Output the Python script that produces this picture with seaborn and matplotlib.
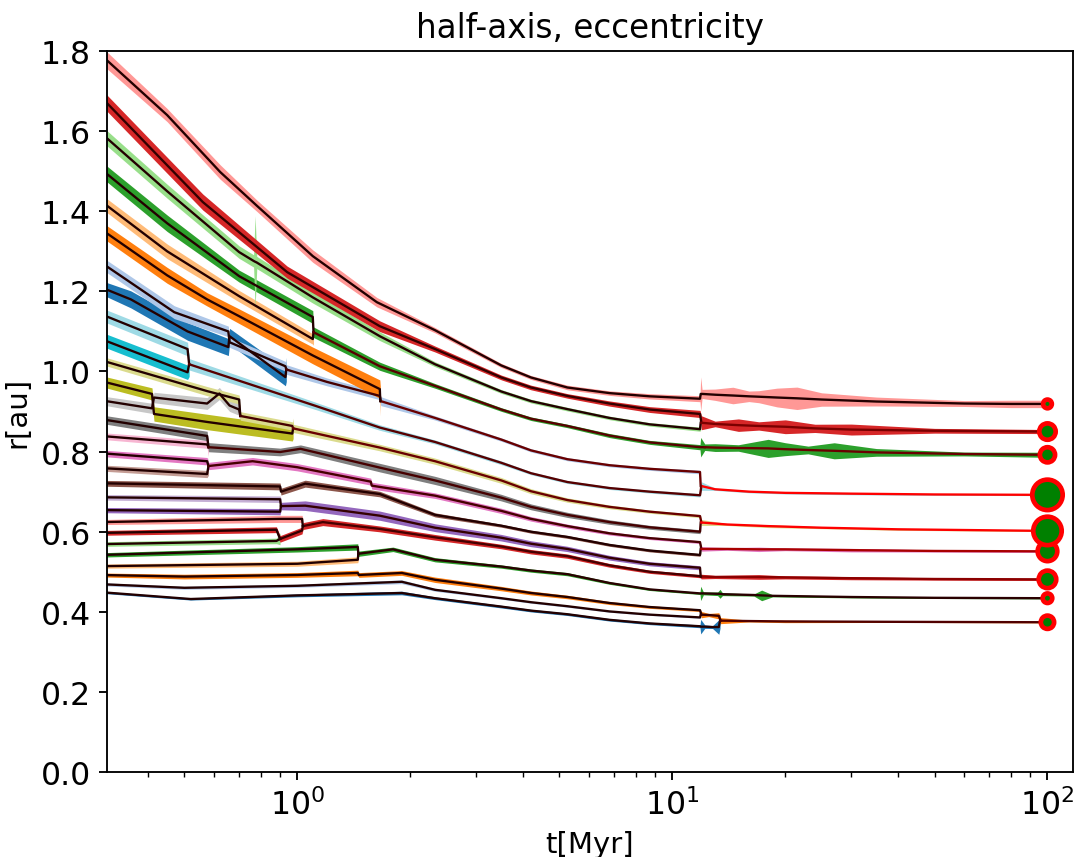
import matplotlib
matplotlib.use("Agg")
import matplotlib.pyplot as plt
from matplotlib.colors import LinearSegmentedColormap, Normalize
import seaborn as sns

# --- body tracks: time [Myr], half-axis [au], eccentricity (band a*(1-e)..a*(1+e)) ---
t0 = [0.30, 0.52, 1.0, 1.9, 2.33, 3.5, 4.2, 5.25, 6.8, 8.7, 11.85, 11.9, 12.2, 12.8, 13.3, 13.4]
a0 = [0.449, 0.432, 0.441, 0.447, 0.434, 0.413, 0.403, 0.394, 0.38, 0.371, 0.364, 0.363, 0.363, 0.362, 0.362, 0.378]
e0 = [0.006, 0.006, 0.008, 0.01, 0.008, 0.008, 0.008, 0.008, 0.008, 0.008, 0.01, 0.05, 0.012, 0.01, 0.05, 0.05]

t1 = [0.30, 0.5, 1.0, 1.9, 2.33, 3.5, 4.2, 5.25, 6.8, 8.7, 11.85, 11.9]
a1 = [0.469, 0.46, 0.465, 0.475, 0.455, 0.434, 0.424, 0.414, 0.401, 0.393, 0.386, 0.393]
e1 = [0.008, 0.008, 0.008, 0.01, 0.008, 0.006, 0.006, 0.006, 0.005, 0.005, 0.005, 0.02]

t2 = [0.30, 0.5, 1.0, 1.45, 1.46, 1.9, 2.33, 3.5, 4.2, 5.25, 6.8, 8.7, 11.85, 11.95, 12.5, 13.3, 13.45, 16, 20, 40, 100]
a2 = [0.492, 0.488, 0.492, 0.497, 0.492, 0.497, 0.48, 0.458, 0.447, 0.437, 0.422, 0.412, 0.404, 0.393, 0.392, 0.39, 0.378, 0.377, 0.376, 0.375, 0.374]
e2 = [0.01, 0.012, 0.012, 0.014, 0.012, 0.012, 0.014, 0.012, 0.011, 0.01, 0.009, 0.008, 0.008, 0.02, 0.01, 0.02, 0.02, 0.006, 0.008, 0.004, 0.004]

t3 = [0.30, 1.0, 1.45, 1.455]
a3 = [0.514, 0.52, 0.53, 0.545]
e3 = [0.01, 0.012, 0.014, 0.03]

t4 = [0.30, 1.0, 1.45, 1.455, 1.8, 2.33, 3.5, 4.2, 5.25, 6.8, 8.7, 11.85, 11.9, 12.1, 13.2, 13.4, 13.6, 16.5, 17.3, 18.5, 30, 50, 100]
a4 = [0.542, 0.556, 0.562, 0.545, 0.556, 0.53, 0.513, 0.503, 0.494, 0.472, 0.456, 0.446, 0.446, 0.446, 0.445, 0.445, 0.444, 0.442, 0.441, 0.44, 0.437, 0.435, 0.434]
e4 = [0.01, 0.012, 0.014, 0.012, 0.01, 0.01, 0.008, 0.008, 0.008, 0.007, 0.006, 0.006, 0.04, 0.008, 0.01, 0.025, 0.008, 0.006, 0.03, 0.006, 0.005, 0.004, 0.004]

t5 = [0.30, 0.88, 0.9]
a5 = [0.569, 0.577, 0.582]
e5 = [0.01, 0.012, 0.025]

t6 = [0.30, 0.88, 0.9, 1.03, 1.035, 1.17, 1.66, 2.33, 3.5, 4.2, 5.25, 6.8, 8.7, 11.85, 11.95, 13, 17, 20, 30, 50, 100]
a6 = [0.597, 0.605, 0.582, 0.603, 0.614, 0.624, 0.607, 0.586, 0.563, 0.55, 0.539, 0.516, 0.50, 0.489, 0.488, 0.487, 0.487, 0.486, 0.484, 0.482, 0.481]
e6 = [0.01, 0.012, 0.014, 0.014, 0.014, 0.014, 0.012, 0.012, 0.01, 0.01, 0.01, 0.009, 0.008, 0.008, 0.012, 0.008, 0.012, 0.008, 0.008, 0.006, 0.006]

t7 = [0.30, 0.9, 1.03, 1.035]
a7 = [0.624, 0.632, 0.632, 0.614]
e7 = [0.01, 0.014, 0.014, 0.03]

t8 = [0.30, 0.9, 0.905, 1.05, 1.66, 2.33, 3.5, 4.2, 5.25, 6.8, 8.7, 11.85, 11.9]
a8 = [0.654, 0.65, 0.664, 0.665, 0.64, 0.61, 0.585, 0.57, 0.557, 0.535, 0.52, 0.51, 0.488]
e8 = [0.01, 0.012, 0.014, 0.018, 0.018, 0.016, 0.014, 0.013, 0.012, 0.011, 0.01, 0.01, 0.02]

t9 = [0.30, 0.9, 0.905]
a9 = [0.686, 0.681, 0.664]
e9 = [0.01, 0.012, 0.03]

t10 = [0.30, 0.9, 0.905, 1.05, 1.66, 2.33, 3.5, 4.2, 5.25, 6.8, 8.7, 11.85, 11.9]
a10 = [0.721, 0.713, 0.70, 0.72, 0.694, 0.642, 0.615, 0.60, 0.587, 0.567, 0.553, 0.542, 0.557]
e10 = [0.01, 0.012, 0.012, 0.012, 0.01, 0.008, 0.006, 0.006, 0.006, 0.006, 0.006, 0.006, 0.02]

t11 = [0.30, 0.575, 0.58]
a11 = [0.759, 0.744, 0.764]
e11 = [0.01, 0.012, 0.03]

t12 = [0.30, 0.575, 0.58, 0.76, 1.0, 1.57, 1.58, 2.33, 3.5, 4.2, 5.25, 6.8, 8.7, 11.85, 11.95, 14, 17, 20, 30, 50, 100]
a12 = [0.796, 0.776, 0.764, 0.776, 0.761, 0.725, 0.715, 0.69, 0.652, 0.632, 0.614, 0.596, 0.584, 0.574, 0.557, 0.557, 0.556, 0.556, 0.554, 0.552, 0.551]
e12 = [0.01, 0.012, 0.012, 0.012, 0.012, 0.012, 0.012, 0.01, 0.01, 0.009, 0.008, 0.007, 0.006, 0.006, 0.01, 0.006, 0.01, 0.006, 0.008, 0.005, 0.005]

t13 = [0.30, 0.575, 0.58]
a13 = [0.839, 0.818, 0.811]
e13 = [0.01, 0.012, 0.03]

t14 = [0.30, 0.575, 0.58, 0.9, 1.02, 1.66, 2.33, 3.5, 4.2, 5.25, 6.8, 8.7, 11.85, 11.9]
a14 = [0.881, 0.839, 0.811, 0.799, 0.807, 0.76, 0.728, 0.685, 0.662, 0.642, 0.624, 0.611, 0.60, 0.623]
e14 = [0.012, 0.014, 0.014, 0.012, 0.012, 0.014, 0.014, 0.012, 0.011, 0.01, 0.009, 0.008, 0.008, 0.03]

t15 = [0.30, 0.41, 0.415, 0.575, 0.62, 0.66, 0.70, 0.705]
a15 = [0.928, 0.908, 0.935, 0.92, 0.945, 0.915, 0.905, 0.889]
e15 = [0.012, 0.014, 0.014, 0.016, 0.016, 0.016, 0.016, 0.03]

t16 = [0.30, 0.41, 0.415, 0.575, 0.97, 0.975]
a16 = [0.976, 0.944, 0.894, 0.874, 0.845, 0.858]
e16 = [0.014, 0.016, 0.02, 0.022, 0.022, 0.03]

t17 = [0.30, 0.575, 0.70, 0.705, 0.97, 0.975, 1.66, 2.33, 3.5, 4.2, 5.25, 6.8, 8.7, 11.85, 11.95, 14, 18, 25, 40, 100]
a17 = [1.028, 0.951, 0.93, 0.889, 0.864, 0.858, 0.81, 0.776, 0.728, 0.701, 0.679, 0.662, 0.65, 0.639, 0.623, 0.618, 0.614, 0.61, 0.606, 0.602]
e17 = [0.01, 0.012, 0.012, 0.012, 0.012, 0.012, 0.01, 0.01, 0.01, 0.009, 0.008, 0.007, 0.006, 0.006, 0.012, 0.004, 0.006, 0.004, 0.004, 0.003]

t18 = [0.30, 0.51, 0.515]
a18 = [1.081, 0.998, 1.018]
e18 = [0.016, 0.018, 0.03]

t19 = [0.30, 0.51, 0.515, 1.12, 1.66, 2.33, 3.5, 4.2, 5.25, 6.8, 8.7, 11.85, 11.95, 13, 16, 20, 30, 50, 100]
a19 = [1.143, 1.056, 1.018, 0.914, 0.86, 0.824, 0.772, 0.746, 0.724, 0.709, 0.70, 0.691, 0.714, 0.706, 0.70, 0.697, 0.695, 0.693, 0.692]
e19 = [0.014, 0.016, 0.014, 0.01, 0.008, 0.006, 0.006, 0.005, 0.005, 0.005, 0.005, 0.006, 0.015, 0.004, 0.004, 0.004, 0.004, 0.003, 0.003]

t20 = [0.30, 0.36, 0.51, 0.655, 0.66, 0.93, 0.935]
a20 = [1.21, 1.18, 1.10, 1.061, 1.088, 0.986, 1.005]
e20 = [0.014, 0.018, 0.02, 0.02, 0.018, 0.022, 0.03]

t21 = [0.30, 0.47, 0.655, 0.66, 0.93, 0.935, 1.20, 1.66, 1.67, 2.33, 3.5, 4.2, 5.25, 6.8, 8.7, 11.85, 11.9]
a21 = [1.272, 1.148, 1.10, 1.073, 1.013, 1.005, 0.974, 0.939, 0.926, 0.884, 0.83, 0.803, 0.781, 0.766, 0.757, 0.749, 0.714]
e21 = [0.012, 0.014, 0.012, 0.012, 0.012, 0.012, 0.01, 0.01, 0.012, 0.006, 0.005, 0.005, 0.005, 0.005, 0.005, 0.006, 0.03]

t22 = [0.30, 0.45, 0.575, 0.70, 1.10, 1.66, 1.665]
a22 = [1.355, 1.24, 1.18, 1.138, 1.04, 0.956, 0.926]
e22 = [0.014, 0.016, 0.014, 0.016, 0.02, 0.024, 0.04]

t23 = [0.30, 0.45, 0.70, 1.10, 1.105]
a23 = [1.425, 1.30, 1.188, 1.081, 1.098]
e23 = [0.012, 0.014, 0.012, 0.012, 0.03]

t24 = [0.30, 0.45, 0.70, 1.10, 1.105, 1.66, 2.33, 3.5, 4.2, 5.25, 6.8, 8.7, 11.85, 11.9, 12.2, 13, 15, 18, 20, 23, 27, 35, 60, 100]
a24 = [1.505, 1.37, 1.238, 1.136, 1.098, 1.013, 0.964, 0.905, 0.882, 0.864, 0.84, 0.823, 0.811, 0.811, 0.811, 0.81, 0.809, 0.808, 0.806, 0.804, 0.802, 0.798, 0.794, 0.792]
e24 = [0.013, 0.015, 0.012, 0.014, 0.012, 0.01, 0.006, 0.005, 0.005, 0.005, 0.006, 0.006, 0.008, 0.03, 0.01, 0.012, 0.01, 0.028, 0.02, 0.012, 0.025, 0.012, 0.006, 0.008]

t25 = [0.30, 0.45, 0.70, 0.765, 0.772, 0.78, 1.10, 1.66, 2.33, 3.5, 4.2, 5.25, 6.8, 8.7, 11.85, 11.9]
a25 = [1.595, 1.45, 1.298, 1.276, 1.274, 1.272, 1.185, 1.088, 1.018, 0.95, 0.926, 0.906, 0.884, 0.868, 0.856, 0.872]
e25 = [0.012, 0.012, 0.012, 0.012, 0.09, 0.012, 0.012, 0.01, 0.006, 0.005, 0.005, 0.005, 0.005, 0.005, 0.006, 0.02]

t26 = [0.30, 0.56, 0.94, 1.66, 2.33, 3.5, 4.2, 5.25, 6.8, 8.7, 11.85, 11.95, 13, 15, 17, 20, 24, 30, 50, 100]
a26 = [1.685, 1.423, 1.248, 1.113, 1.056, 0.985, 0.96, 0.939, 0.92, 0.905, 0.894, 0.872, 0.869, 0.866, 0.864, 0.862, 0.858, 0.855, 0.852, 0.85]
e26 = [0.012, 0.014, 0.012, 0.012, 0.007, 0.006, 0.006, 0.006, 0.007, 0.008, 0.01, 0.02, 0.008, 0.018, 0.012, 0.02, 0.012, 0.016, 0.007, 0.006]

t27 = [0.30, 0.45, 0.623, 0.782, 1.10, 1.63, 2.33, 3.5, 4.2, 5.25, 6.8, 8.7, 11.85, 11.9, 12.0, 13, 14.5, 16, 17, 19, 21.5, 25, 35, 60, 80, 100]
a27 = [1.79, 1.64, 1.498, 1.413, 1.288, 1.173, 1.103, 1.015, 0.985, 0.96, 0.946, 0.938, 0.932, 0.944, 0.944, 0.942, 0.94, 0.938, 0.937, 0.935, 0.933, 0.93, 0.925, 0.92, 0.919, 0.919]
e27 = [0.012, 0.01, 0.012, 0.01, 0.012, 0.01, 0.006, 0.005, 0.005, 0.006, 0.006, 0.007, 0.008, 0.045, 0.012, 0.015, 0.022, 0.014, 0.016, 0.025, 0.03, 0.018, 0.012, 0.008, 0.01, 0.01]

# mass history (step changes at mergers), earth masses; bodies not listed keep 1
mass_t = {2: [0.3, 11.95, 13.45], 4: [0.3, 1.455], 6: [0.3, 0.9, 1.035, 11.95], 8: [0.3, 0.905],
          12: [0.3, 0.58, 11.95], 14: [0.3, 0.58], 17: [0.3, 0.705, 0.975, 11.95],
          19: [0.3, 0.515, 11.95], 21: [0.3, 0.935, 1.67], 24: [0.3, 1.105, 11.95], 26: [0.3, 11.95]}
mass_v = {2: [1, 1.6, 2.3], 4: [1, 1.2], 6: [1, 1.5, 2, 4], 8: [1, 1.5],
          12: [1, 2, 5], 14: [1, 2], 17: [1, 2, 3, 10.5],
          19: [1, 2.5, 12], 21: [1, 2, 3], 24: [1, 2.5, 3], 26: [1.5, 3.5]}

survivors = [2, 4, 6, 12, 17, 19, 24, 26, 27]

T = [t0, t1, t2, t3, t4, t5, t6, t7, t8, t9, t10, t11, t12, t13,
     t14, t15, t16, t17, t18, t19, t20, t21, t22, t23, t24, t25, t26, t27]
A = [a0, a1, a2, a3, a4, a5, a6, a7, a8, a9, a10, a11, a12, a13,
     a14, a15, a16, a17, a18, a19, a20, a21, a22, a23, a24, a25, a26, a27]
E = [e0, e1, e2, e3, e4, e5, e6, e7, e8, e9, e10, e11, e12, e13,
     e14, e15, e16, e17, e18, e19, e20, e21, e22, e23, e24, e25, e26, e27]


def mass_at(i, t):
    mt = mass_t.get(i, [0.3])
    mv = mass_v.get(i, [1])
    m = mv[0]
    for tk, vk in zip(mt, mv):
        if t >= tk:
            m = vk
    return m


pal = sns.color_palette("tab20", 20)
cmap = LinearSegmentedColormap.from_list("mass", ["#000000", "#8b0000", "#ff0000"])
norm = Normalize(vmin=0, vmax=8, clip=True)

plt.rcParams["xtick.labelsize"] = 13.5
plt.rcParams["ytick.labelsize"] = 13.5
plt.rcParams["axes.labelsize"] = 12.5
plt.rcParams["axes.titlesize"] = 14

fig = plt.figure(figsize=(6.4, 5.107), dpi=168)
ax = fig.add_axes([0.0995, 0.099, 0.8985, 0.8404])
ax.set_xscale("log")

# eccentricity bands first
for i in range(len(T)):
    lo = [a * (1 - e) for a, e in zip(A[i], E[i])]
    hi = [a * (1 + e) for a, e in zip(A[i], E[i])]
    ax.fill_between(T[i], lo, hi, color=pal[i % 20], lw=0, zorder=1)

# half-axis lines, coloured by mass
for i in range(len(T)):
    t, a = T[i], A[i]
    start = 0
    for k in range(1, len(t)):
        m_now = mass_at(i, t[start])
        last = k == len(t) - 1
        if last or mass_at(i, t[k]) != m_now:
            sns.lineplot(x=t[start:k + 1], y=a[start:k + 1], sort=False, estimator=None,
                         color=cmap(norm(m_now)), lw=1.0, ax=ax, zorder=2)
            start = k

# surviving planets at the end of the run
fin_t = [T[i][-1] for i in survivors]
fin_a = [A[i][-1] for i in survivors]
fin_m = [mass_at(i, T[i][-1]) for i in survivors]
sns.scatterplot(x=fin_t, y=fin_a, size=fin_m, sizes=(14, 170), size_norm=(1, 12),
                color="green", edgecolor="red", linewidth=2, legend=False, ax=ax, zorder=5)

ax.set_xlim(0.311, 117)
ax.set_ylim(0, 1.8)
ax.set_yticks([0.0, 0.2, 0.4, 0.6, 0.8, 1.0, 1.2, 1.4, 1.6, 1.8])
ax.set_xlabel("t[Myr]")
ax.set_ylabel("r[au]")
ax.set_title("half-axis, eccentricity")

fig.savefig("out.png", dpi=168)
